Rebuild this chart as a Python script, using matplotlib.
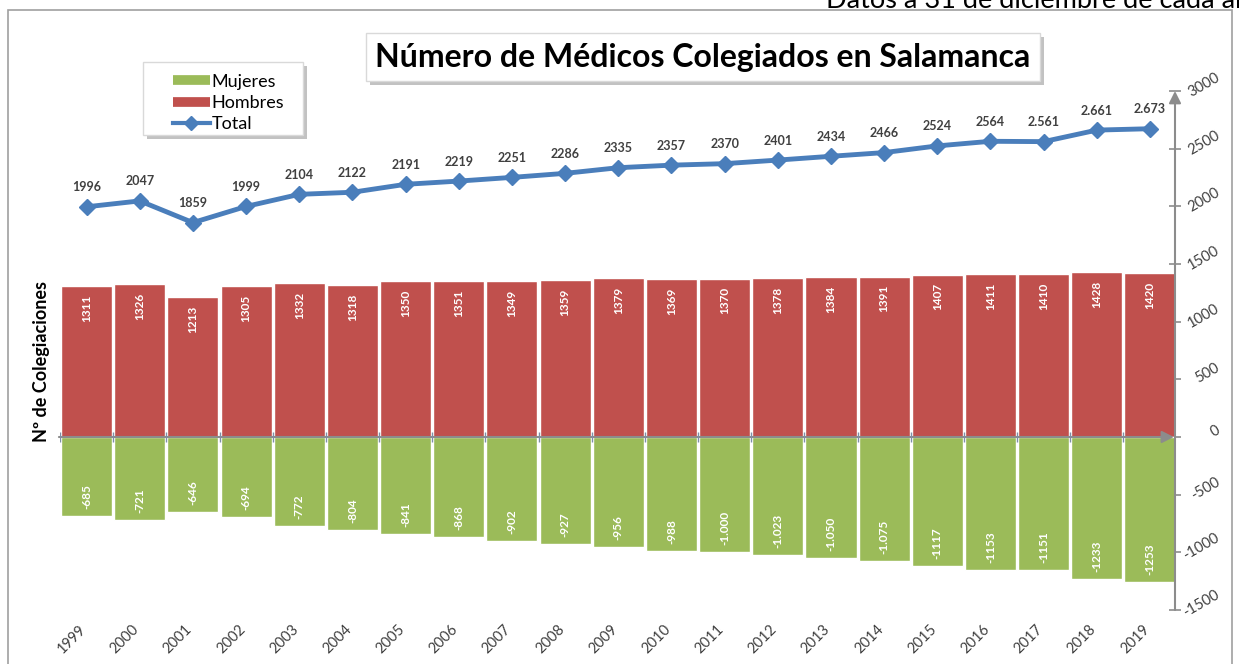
import numpy as np
import matplotlib
matplotlib.use("Agg")
import matplotlib.pyplot as plt
import matplotlib.patheffects as pe
from matplotlib.lines import Line2D
from matplotlib.patches import Rectangle
import matplotlib.transforms as mtransforms

plt.rcParams['font.family'] = ['Lato', 'DejaVu Sans']

# ── Data ──────────────────────────────────────────────────────────────────────
years   = [str(y) for y in range(1999, 2020)]
hombres = [1311, 1326, 1213, 1305, 1332, 1318, 1350, 1351, 1349, 1359, 1379,
           1369, 1370, 1378, 1384, 1391, 1407, 1411, 1410, 1428, 1420]
mujeres = [-685, -721, -646, -694, -772, -804, -841, -868, -902, -927, -956,
           -988, -1000, -1023, -1050, -1075, -1117, -1153, -1151, -1233, -1253]
mujeres_lbl = ["-685", "-721", "-646", "-694", "-772", "-804", "-841", "-868",
               "-902", "-927", "-956", "-988", "-1.000", "-1.023", "-1.050",
               "-1.075", "-1117", "-1153", "-1151", "-1233", "-1253"]
total   = [1996, 2047, 1859, 1999, 2104, 2122, 2191, 2219, 2251, 2286, 2335,
           2357, 2370, 2401, 2434, 2466, 2524, 2564, 2561, 2661, 2673]
total_lbl = ["1996", "2047", "1859", "1999", "2104", "2122", "2191", "2219",
             "2251", "2286", "2335", "2357", "2370", "2401", "2434", "2466",
             "2524", "2564", "2.561", "2.661", "2.673"]
yticks = [-1500, -1000, -500, 0, 500, 1000, 1500, 2000, 2500, 3000]

RED   = '#C0504D'
GREEN = '#9BBB59'
BLUE  = '#4A7EBB'
GREY  = '#8C8C8C'
TXT   = '#404040'

W, H = 1239, 664
fig = plt.figure(figsize=(W / 100, H / 100), dpi=100)
ax = fig.add_axes([60 / W, (H - 610) / H, (1175 - 60) / W, (610 - 91) / H])

x = np.arange(len(years))

# ── Bars ──────────────────────────────────────────────────────────────────────
ax.bar(x, hombres, width=0.96, color=RED, edgecolor='white', lw=1, zorder=2)
ax.bar(x, mujeres, width=0.96, color=GREEN, edgecolor='white', lw=1, zorder=2)

for i in range(len(x)):
    ax.annotate(str(hombres[i]), (x[i], hombres[i]), xytext=(0, -6),
                textcoords='offset points', ha='center', va='top', rotation=90,
                color='white', fontsize=8.5, fontweight='bold', zorder=4)
    ax.annotate(mujeres_lbl[i], (x[i], mujeres[i]), xytext=(0, 5),
                textcoords='offset points', ha='center', va='bottom', rotation=90,
                color='white', fontsize=8.5, fontweight='bold', zorder=4)

# ── Total line ────────────────────────────────────────────────────────────────
ax.plot(x, total, color=BLUE, lw=3.5, marker='D', ms=8, zorder=5)
for i in range(len(x)):
    ax.annotate(total_lbl[i], (x[i], total[i]), xytext=(0, 14),
                textcoords='offset points', ha='center', va='center',
                color=TXT, fontsize=9, fontweight='bold', zorder=6)

# ── Axes styling ──────────────────────────────────────────────────────────────
ax.set_xlim(-0.5, 20.47)
ax.set_ylim(-1500, 3000)
for s in ax.spines.values():
    s.set_visible(False)
ax.set_xticks([])
ax.yaxis.tick_right()
ax.set_yticks(yticks)
ax.tick_params(axis='y', direction='inout', length=9, width=1.2, color=GREY,
               labelright=False)

# y tick labels, rotated like the original
ylab_tr = mtransforms.blended_transform_factory(ax.transAxes, ax.transData) + \
    mtransforms.ScaledTranslation(47 / 100, 6 / 100, fig.dpi_scale_trans)
for v in yticks:
    ax.text(1, v, str(v), transform=ylab_tr, rotation=30, ha='right',
            va='center', fontsize=10.5, color=TXT, clip_on=False)

# vertical axis with arrow
ax.annotate('', xy=(20.47, 3000), xytext=(20.47, -1500),
            arrowprops=dict(arrowstyle='-|>', color=GREY, lw=1.5,
                            mutation_scale=18, shrinkA=0, shrinkB=0),
            annotation_clip=False, zorder=3)
# horizontal zero axis with arrow
ax.annotate('', xy=(20.45, 0), xytext=(-0.52, 0),
            arrowprops=dict(arrowstyle='-|>', color=GREY, lw=1.5,
                            mutation_scale=18, shrinkA=0, shrinkB=0),
            annotation_clip=False, zorder=3)
ax.plot(np.arange(-0.5, 20, 1.0), np.zeros(21), ls='none', marker='|',
        ms=7, color='#7F8FA6', zorder=3)

# year labels
offset = mtransforms.ScaledTranslation(-8 / 100, -12 / 100, fig.dpi_scale_trans)
trans = mtransforms.blended_transform_factory(ax.transData, ax.transAxes) + offset
for i, yr in enumerate(years):
    ax.text(x[i], 0, yr, transform=trans, rotation=45, rotation_mode='anchor',
            ha='right', va='top', fontsize=10.5, color=TXT)

# y label
fig.text(42 / W, (H - 362) / H, 'Nº de Colegiaciones', rotation=90,
         ha='center', va='center', fontsize=13, fontweight='bold', color='black')

# ── Title box ─────────────────────────────────────────────────────────────────
t = fig.text(703 / W, (H - 57) / H, 'Número de Médicos Colegiados en Salamanca',
             ha='center', va='center', fontsize=23, fontweight='bold',
             bbox=dict(boxstyle='square,pad=0.3', fc='white', ec='#D9D9D9'))
t.get_bbox_patch().set_path_effects([pe.SimplePatchShadow(offset=(3, -3),
                                     shadow_rgbFace='#9A9A9A', alpha=0.6),
                                     pe.Normal()])

# subtitle (cut at the top edge, as in the source image)
fig.text(826 / W, (H - 8) / H, 'Datos a 31 de diciembre de cada año',
         ha='left', va='baseline', fontsize=19.5, color='black', zorder=10)

# ── Legend ────────────────────────────────────────────────────────────────────
box = Rectangle((143 / W, (H - 135) / H), 160 / W, 73 / H,
                transform=fig.transFigure, fc='white', ec='#D9D9D9', lw=1,
                zorder=5)
box.set_path_effects([pe.SimplePatchShadow(offset=(3, -3),
                      shadow_rgbFace='#9A9A9A', alpha=0.6), pe.Normal()])
fig.patches.append(box)
handles = [Line2D([0], [0], color=GREEN, lw=7, solid_capstyle='butt'),
           Line2D([0], [0], color=RED, lw=7, solid_capstyle='butt'),
           Line2D([0], [0], color=BLUE, lw=3, marker='D', ms=7)]
leg = fig.legend(handles, ['Mujeres', 'Hombres', 'Total'], loc='upper left',
                 bbox_to_anchor=(160 / W, (H - 61) / H), fontsize=13,
                 frameon=False, handlelength=2.05, handletextpad=0.1,
                 labelspacing=0.3, borderpad=0.2)
leg.set_zorder(6)

# outer frame
fig.patches.append(Rectangle((8 / W, -0.02), (1232 - 8) / W, (H - 10) / H + 0.02,
                             transform=fig.transFigure, fill=False,
                             ec='#A0A0A0', lw=1.2))

plt.savefig('out.png', dpi=100)
